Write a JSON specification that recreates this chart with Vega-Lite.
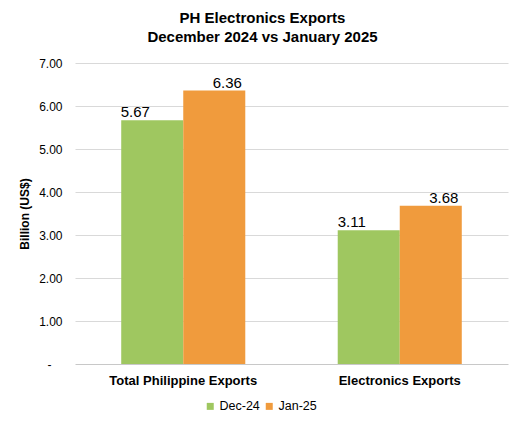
{
  "$schema": "https://vega.github.io/schema/vega-lite/v6.json",
  "autosize": {"type": "none"},
  "padding": {"left": 75, "top": 63, "right": 18, "bottom": 63},
  "width": 433,
  "height": 301,
  "background": "white",
  "title": {
    "text": ["PH Electronics Exports", "December 2024 vs January 2025"],
    "anchor": "middle",
    "dx": -29,
    "offset": 12,
    "font": "Liberation Sans",
    "fontSize": 15,
    "fontWeight": "bold",
    "lineHeight": 19.5,
    "color": "#000000"
  },
  "data": {
    "values": [
      {"category": "Total Philippine Exports", "period": "Dec-24", "value": 5.67},
      {"category": "Total Philippine Exports", "period": "Jan-25", "value": 6.36},
      {"category": "Electronics Exports", "period": "Dec-24", "value": 3.11},
      {"category": "Electronics Exports", "period": "Jan-25", "value": 3.68}
    ]
  },
  "encoding": {
    "x": {
      "field": "category",
      "type": "nominal",
      "sort": null,
      "scale": {"paddingInner": 0.427, "paddingOuter": 0.2135},
      "axis": {
        "title": null,
        "domain": false,
        "ticks": false,
        "labelAngle": 0,
        "labelPadding": 10,
        "labelFont": "Liberation Sans",
        "labelFontSize": 13,
        "labelFontWeight": "bold",
        "labelColor": "#000000"
      }
    },
    "xOffset": {"field": "period", "type": "nominal", "sort": ["Dec-24", "Jan-25"]},
    "y": {
      "field": "value",
      "type": "quantitative",
      "scale": {"domain": [0, 7], "nice": false},
      "axis": {
        "title": "Billion (US$)",
        "titleFont": "Liberation Sans",
        "titleFontSize": 12,
        "titleFontWeight": "bold",
        "titleColor": "#000000",
        "titlePadding": 7,
        "values": [0, 1, 2, 3, 4, 5, 6, 7],
        "format": ".2f",
        "labelExpr": "datum.value == 0 ? '-' : datum.label",
        "labelFont": "Liberation Sans",
        "labelFontSize": 12,
        "labelColor": "#000000",
        "labelPadding": {"condition": {"test": "datum.value == 0", "value": 24}, "value": 13},
        "domain": false,
        "ticks": false,
        "grid": true,
        "gridColor": {"condition": {"test": "datum.value == 0", "value": "#C8C8C8"}, "value": "#D9D9D9"},
        "gridWidth": 1
      }
    }
  },
  "layer": [
    {
      "mark": {"type": "bar"},
      "encoding": {
        "color": {
          "field": "period",
          "type": "nominal",
          "sort": ["Dec-24", "Jan-25"],
          "scale": {"domain": ["Dec-24", "Jan-25"], "range": ["#9FC760", "#F09B3D"]},
          "legend": {
            "title": null,
            "orient": "none",
            "direction": "horizontal",
            "legendX": 129,
            "legendY": 337,
            "symbolType": "square",
            "symbolSize": 49,
            "symbolStrokeWidth": 0,
            "labelOffset": 3,
            "columnPadding": 3,
            "labelFont": "Liberation Sans",
            "labelFontSize": 12.5,
            "labelColor": "#000000"
          }
        }
      }
    },
    {
      "transform": [{"filter": "datum.period == 'Dec-24'"}],
      "mark": {"type": "text", "dx": -17, "dy": -3, "baseline": "alphabetic", "font": "Liberation Sans", "fontSize": 15, "color": "#000000"},
      "encoding": {"text": {"field": "value", "type": "quantitative", "format": ".2f"}}
    },
    {
      "transform": [{"filter": "datum.period == 'Jan-25'"}],
      "mark": {"type": "text", "dx": 13, "dy": -3, "baseline": "alphabetic", "font": "Liberation Sans", "fontSize": 15, "color": "#000000"},
      "encoding": {"text": {"field": "value", "type": "quantitative", "format": ".2f"}}
    }
  ],
  "config": {"view": {"stroke": null}}
}
